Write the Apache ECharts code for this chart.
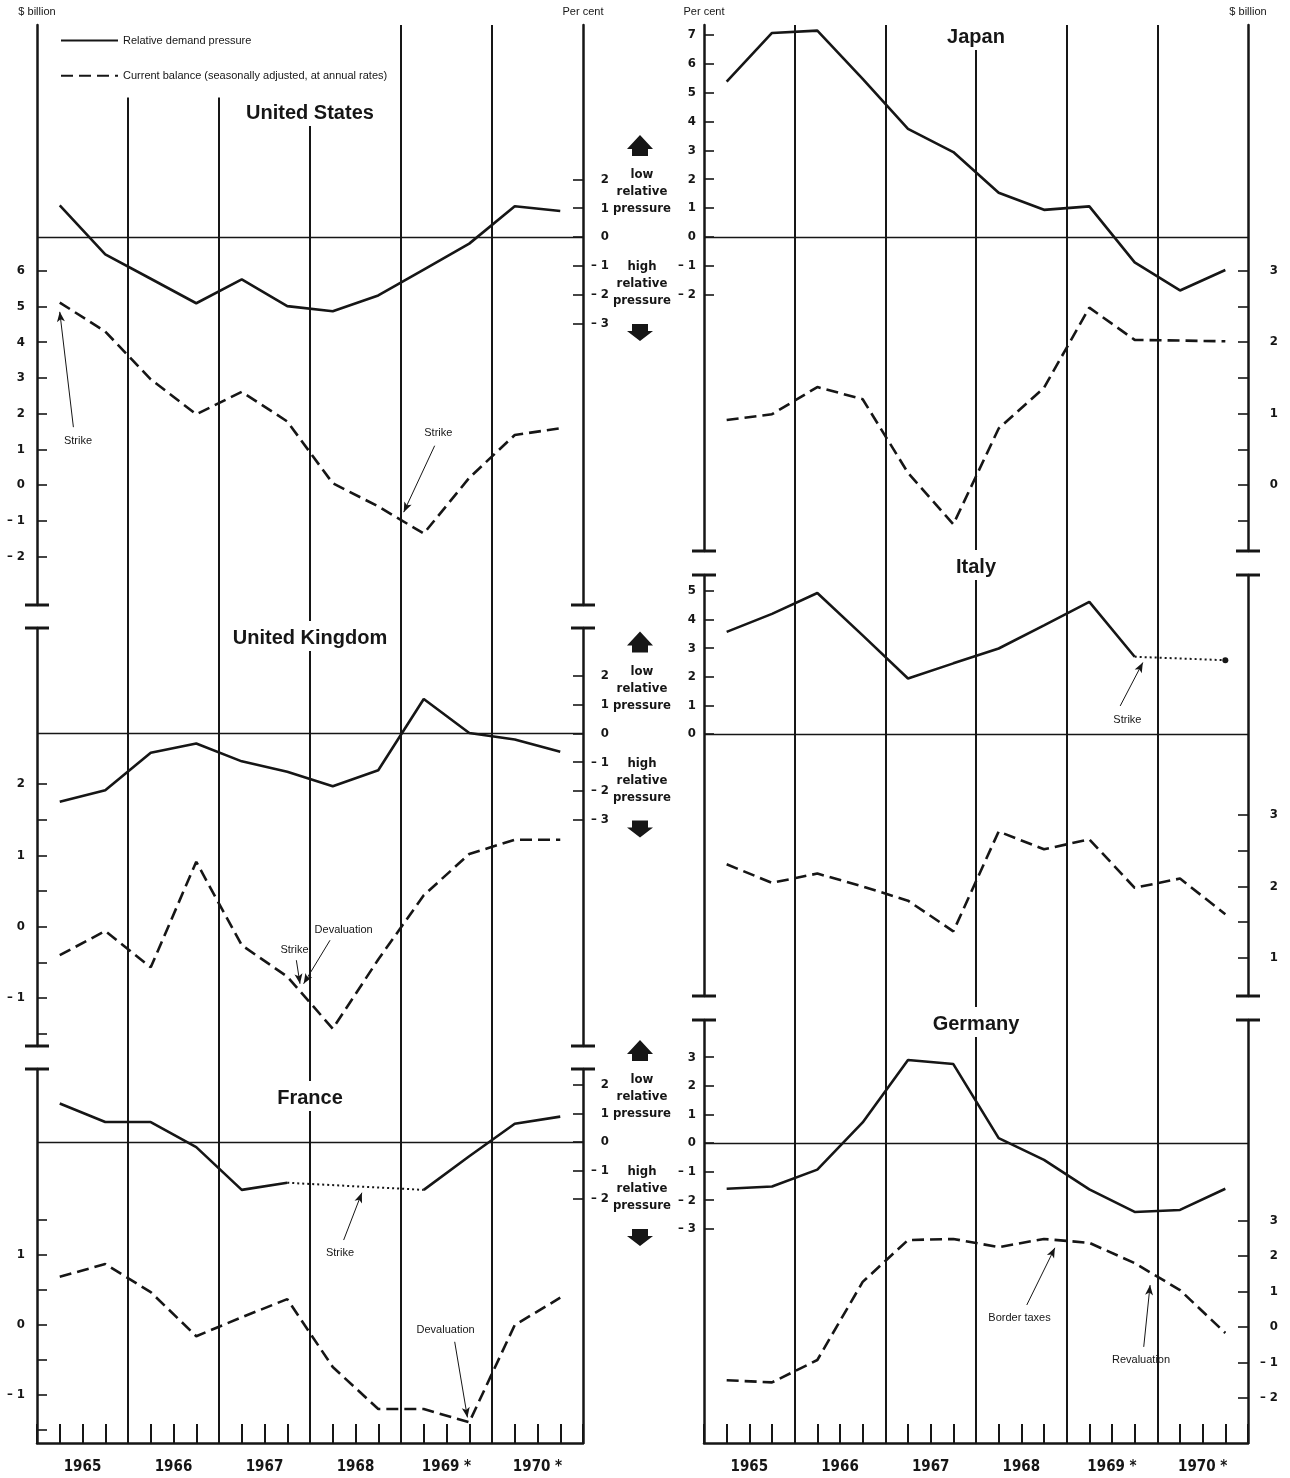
<!DOCTYPE html>
<html>
<head>
<meta charset="utf-8">
<script src="https://cdn.jsdelivr.net/npm/echarts@6/dist/echarts.min.js"></script>
<style>
  html, body { margin: 0; padding: 0; background: #ffffff; }
  #chart { width: 1290px; height: 1478px; }
</style>
</head>
<body>
<div id="chart"></div>
<script>
// Half-year periods, each plotted at the middle of its half
const periods = [1965.25, 1965.75, 1966.25, 1966.75, 1967.25, 1967.75,
                 1968.25, 1968.75, 1969.25, 1969.75, 1970.25, 1970.75];
const yearTicks = [1965.5, 1966.5, 1967.5, 1968.5, 1969.5, 1970.5];
const yearLabels = ['1965', '1966', '1967', '1968', '1969 *', '1970 *'];

// Relative demand pressure (per cent); null = no observation (strike)
const usPressure = [1.10, -0.60, -1.45, -2.30, -1.47, -2.40, -2.58, -2.03, -1.13, -0.23, 1.07, 0.90];
const ukPressure = [-2.38, -1.98, -0.67, -0.35, -0.97, -1.33, -1.84, -1.28, 1.20, 0.02, -0.21, -0.64];
const frPressure = [1.35, 0.70, 0.70, -0.18, -1.68, -1.43, null, null, -1.68, -0.50, 0.64, 0.89];
const jpPressure = [5.38, 7.06, 7.14, 5.47, 3.74, 2.94, 1.53, 0.94, 1.06, -0.88, -1.85, -1.14];
const itPressure = [3.57, 4.20, 4.93, 3.45, 1.94, 2.47, 2.99, 3.80, 4.62, 2.70, null, 2.58];
const dePressure = [-1.60, -1.52, -0.93, 0.72, 2.90, 2.76, 0.17, -0.59, -1.62, -2.41, -2.34, -1.60];

// Current balance, seasonally adjusted, at annual rates ($ billion)
const usBalance = [5.11, 4.30, 2.96, 1.98, 2.61, 1.78, 0.05, -0.60, -1.36, 0.20, 1.40, 1.59];
const ukBalance = [-0.40, -0.06, -0.57, 0.91, -0.26, -0.70, -1.43, -0.46, 0.44, 1.02, 1.22, 1.22];
const frBalance = [0.69, 0.87, 0.47, -0.16, 0.11, 0.37, -0.60, -1.20, -1.20, -1.39, 0.00, 0.39];
const jpBalance = [0.91, 0.99, 1.37, 1.20, 0.17, -0.55, 0.79, 1.36, 2.48, 2.03, 2.02, 2.01];
const itBalance = [2.31, 2.05, 2.18, 2.00, 1.80, 1.37, 2.77, 2.52, 2.66, 1.98, 2.11, 1.61];
const deBalance = [-1.50, -1.56, -0.93, 1.27, 2.45, 2.48, 2.25, 2.48, 2.37, 1.80, 1.04, -0.17];

// Axis tick values
const pctTicksUS = [2, 1, 0, -1, -2, -3];
const pctTicksUK = [2, 1, 0, -1, -2, -3];
const pctTicksFR = [2, 1, 0, -1, -2];
const pctTicksJP = [7, 6, 5, 4, 3, 2, 1, 0, -1, -2];
const pctTicksIT = [5, 4, 3, 2, 1, 0];
const pctTicksDE = [3, 2, 1, 0, -1, -2, -3];
const balTicksUS = [-2, -1, 0, 1, 2, 3, 4, 5, 6];
const balTicksUK = [-1.5, -1, -0.5, 0, 0.5, 1, 1.5, 2];
const balLabelsUK = [-1, 0, 1, 2];
const balTicksFR = [-1.5, -1, -0.5, 0, 0.5, 1, 1.5];
const balLabelsFR = [-1, 0, 1];
const balTicksJP = [-0.5, 0, 0.5, 1, 1.5, 2, 2.5, 3];
const balLabelsJP = [0, 1, 2, 3];
const balTicksIT = [1, 1.5, 2, 2.5, 3];
const balLabelsIT = [1, 2, 3];
const balTicksDE = [-2, -1, 0, 1, 2, 3];

const LEGEND_PRESSURE = 'Relative demand pressure';
const LEGEND_BALANCE = 'Current balance (seasonally adjusted, at annual rates)';

const INK = '#161616';
const NUM_FONT = "'Liberation Sans Narrow', 'DejaVu Sans Condensed', 'Arial Narrow', sans-serif";
const TXT_FONT = "'Liberation Sans', Arial, Helvetica, sans-serif";

// Column frames (pixels)
const columns = [
  { left: 37, right: 583, top: 25, bottom: 1443 },
  { left: 704, right: 1248, top: 25, bottom: 1443 }
];

// Panel layout: vertical extent, and for each scale the pixel of zero and pixels per unit
const panels = [
  { title: 'United States', col: 0, top: 25, bottom: 605, titleY: 113,
    pct: { zero: 237, ppu: 28.8, ticks: pctTicksUS },
    bal: { zero: 485, ppu: 35.7, ticks: balTicksUS },
    pressure: usPressure, balance: usBalance, capTop: false, capBottom: true,
    notes: [
      { axis: 'bal', text: 'Strike', at: [1965.45, 1.23], from: [1965.40, 1.62], to: [1965.25, 4.85] },
      { axis: 'bal', text: 'Strike', at: [1969.41, 1.46], from: [1969.37, 1.10], to: [1969.03, -0.76] }
    ] },
  { title: 'United Kingdom', col: 0, top: 628, bottom: 1046, titleY: 638,
    pct: { zero: 733.5, ppu: 28.7, ticks: pctTicksUK },
    bal: { zero: 926.7, ppu: 71.3, ticks: balTicksUK, labels: balLabelsUK },
    pressure: ukPressure, balance: ukBalance, capTop: true, capBottom: true,
    notes: [
      { axis: 'bal', text: 'Devaluation', at: [1968.37, -0.05], from: [1968.22, -0.19], to: [1967.93, -0.80] },
      { axis: 'bal', text: 'Strike', at: [1967.83, -0.32], from: [1967.85, -0.47], to: [1967.89, -0.80] }
    ] },
  { title: 'France', col: 0, top: 1069, bottom: 1443, titleY: 1098,
    pct: { zero: 1142, ppu: 28.5, ticks: pctTicksFR },
    bal: { zero: 1325, ppu: 70, ticks: balTicksFR, labels: balLabelsFR },
    pressure: frPressure, balance: frBalance, capTop: true, capBottom: false,
    notes: [
      { axis: 'pct', text: 'Strike', at: [1968.33, -3.90], from: [1968.37, -3.44], to: [1968.57, -1.78] },
      { axis: 'bal', text: 'Devaluation', at: [1969.49, -0.07], from: [1969.59, -0.24], to: [1969.73, -1.32] }
    ] },
  { title: 'Japan', col: 1, top: 25, bottom: 551, titleY: 37,
    pct: { zero: 237, ppu: 28.9, ticks: pctTicksJP },
    bal: { zero: 485, ppu: 71.5, ticks: balTicksJP, labels: balLabelsJP },
    pressure: jpPressure, balance: jpBalance, capTop: false, capBottom: true, notes: [] },
  { title: 'Italy', col: 1, top: 575, bottom: 996, titleY: 567,
    pct: { zero: 734, ppu: 28.6, ticks: pctTicksIT },
    bal: { zero: 1029, ppu: 71.3, ticks: balTicksIT, labels: balLabelsIT },
    pressure: itPressure, balance: itBalance, capTop: true, capBottom: true,
    notes: [
      { axis: 'pct', text: 'Strike', at: [1969.67, 0.49], from: [1969.59, 0.98], to: [1969.84, 2.50] }
    ] },
  { title: 'Germany', col: 1, top: 1020, bottom: 1443, titleY: 1024,
    pct: { zero: 1143, ppu: 28.6, ticks: pctTicksDE },
    bal: { zero: 1327, ppu: 35.5, ticks: balTicksDE },
    pressure: dePressure, balance: deBalance, capTop: true, capBottom: false,
    notes: [
      { axis: 'bal', text: 'Border taxes', at: [1968.48, 0.25], from: [1968.56, 0.62], to: [1968.87, 2.23] },
      { axis: 'bal', text: 'Revaluation', at: [1969.82, -0.93], from: [1969.85, -0.56], to: [1969.92, 1.18] }
    ] }
];

function signed(v) {
  return v < 0 ? '\u2013 ' + Math.abs(v) : String(v);
}

function pairs(values) {
  return values.map((v, i) => [periods[i], v == null ? '-' : v]);
}

// End points on either side of a missing stretch, joined by a dotted line
function bridge(values) {
  const last = values.length - 1;
  return values.map((v, i) => {
    const edge = v != null && ((i < last && values[i + 1] == null) || (i > 0 && values[i - 1] == null));
    if (!edge) return [periods[i], '-'];
    if (i === last) {
      return { value: [periods[i], v], symbol: 'circle', symbolSize: 6, itemStyle: { color: INK } };
    }
    return { value: [periods[i], v], symbol: 'none' };
  });
}

const grids = [], xAxes = [], yAxes = [], series = [], titles = [], graphics = [];

// Column frames: quarter ticks, year labels and year dividers
columns.forEach((c, ci) => {
  grids.push({ left: c.left, top: c.top, width: c.right - c.left, height: c.bottom - c.top,
               outerBoundsMode: 'none', containLabel: false });
  xAxes.push({
    type: 'value', gridIndex: ci, min: 1965, max: 1971, interval: 0.25, position: 'bottom',
    axisLine: { show: true, onZero: false, lineStyle: { color: INK, width: 2.5 } },
    axisTick: { show: true, inside: true, length: 19, lineStyle: { color: INK, width: 2 } },
    axisLabel: {
      customValues: yearTicks, margin: 17, color: INK, fontFamily: NUM_FONT,
      fontWeight: 'bold', fontSize: 15,
      formatter: v => yearLabels[yearTicks.indexOf(v)]
    },
    splitLine: { show: false }
  });
  xAxes.push({
    type: 'value', gridIndex: ci, min: 1965, max: 1971, interval: 1, position: 'top',
    axisLine: { show: false }, axisTick: { show: false }, axisLabel: { show: false },
    splitLine: { show: true, showMinLine: false, showMaxLine: false,
                 lineStyle: { color: INK, width: 2 } }
  });
  yAxes.push({ type: 'value', gridIndex: ci, show: false, min: 0, max: 1 });
});

function valueAxis(p, gi, scale, side, labelCfg, name) {
  const ends = [p.capBottom ? 'rect' : 'none', p.capTop ? 'rect' : 'none'];
  const ax = {
    type: 'value', gridIndex: gi, position: side,
    min: -(p.bottom - scale.zero) / scale.ppu,
    max: (scale.zero - p.top) / scale.ppu,
    axisLine: { show: true, onZero: false, symbol: ends, symbolSize: [24, 3],
                lineStyle: { color: INK, width: 2.5 } },
    axisTick: { show: true, inside: true, length: 10, customValues: scale.ticks,
                lineStyle: { color: INK, width: 1.6 } },
    axisLabel: Object.assign({
      customValues: scale.labels || scale.ticks, formatter: signed, color: INK,
      fontFamily: NUM_FONT, fontWeight: 'bold', fontSize: 13
    }, labelCfg),
    splitLine: { show: false }
  };
  if (name) {
    ax.name = name;
    ax.nameLocation = 'end';
    ax.nameGap = 8;
    ax.nameTextStyle = { fontFamily: TXT_FONT, fontSize: 11, color: INK, align: 'center',
                         verticalAlign: 'bottom' };
  }
  return ax;
}

panels.forEach((p, i) => {
  const c = columns[p.col];
  const gi = 2 + i;
  grids.push({ left: c.left, top: p.top, width: c.right - c.left, height: p.bottom - p.top,
               outerBoundsMode: 'none', containLabel: false });
  xAxes.push({ type: 'value', gridIndex: gi, min: 1965, max: 1971, show: false });
  const xi = xAxes.length - 1;
  const first = p.top === c.top;
  let pctAxis, balAxis;
  if (p.col === 0) {
    balAxis = valueAxis(p, gi, p.bal, 'left', { margin: 12 }, first ? '$ billion' : null);
    pctAxis = valueAxis(p, gi, p.pct, 'right', { margin: 26, align: 'right' }, first ? 'Per cent' : null);
  } else {
    pctAxis = valueAxis(p, gi, p.pct, 'left', { margin: 8 }, first ? 'Per cent' : null);
    balAxis = valueAxis(p, gi, p.bal, 'right', { margin: 30, align: 'right' }, first ? '$ billion' : null);
  }
  yAxes.push(pctAxis);
  const pi = yAxes.length - 1;
  yAxes.push(balAxis);
  const bi = yAxes.length - 1;

  const noteLines = ax => p.notes.filter(n => n.axis === ax).map(n => [
    { coord: n.from, symbol: 'none' },
    { coord: n.to, symbol: 'arrow' }
  ]);
  const noteTexts = ax => p.notes.filter(n => n.axis === ax).map(n => ({ coord: n.at, name: n.text }));
  const markText = ax => ({
    silent: true, symbol: 'rect', symbolSize: 1, itemStyle: { color: 'rgba(0,0,0,0)' },
    label: { show: true, position: 'inside', formatter: '{b}', color: INK,
             fontFamily: TXT_FONT, fontSize: 11 },
    data: noteTexts(ax)
  });

  series.push({
    name: LEGEND_PRESSURE, type: 'line', xAxisIndex: xi, yAxisIndex: pi,
    data: pairs(p.pressure), symbol: 'none', connectNulls: false, z: 3,
    lineStyle: { color: INK, width: 2.6, type: 'solid' }, itemStyle: { color: INK },
    markLine: {
      silent: true, symbol: ['none', 'none'], symbolSize: [6, 10], label: { show: false },
      lineStyle: { color: INK, width: 1, type: 'solid' },
      data: [{ yAxis: 0, lineStyle: { width: 1.4 } }].concat(noteLines('pct'))
    },
    markPoint: markText('pct')
  });
  series.push({
    name: LEGEND_BALANCE, type: 'line', xAxisIndex: xi, yAxisIndex: bi,
    data: pairs(p.balance), symbol: 'none', z: 3,
    lineStyle: { color: INK, width: 2.6, type: [12, 6] }, itemStyle: { color: INK },
    markLine: {
      silent: true, symbol: ['none', 'none'], symbolSize: [6, 10], label: { show: false },
      lineStyle: { color: INK, width: 1, type: 'solid' },
      data: noteLines('bal')
    },
    markPoint: markText('bal')
  });
  if (p.pressure.some(v => v == null)) {
    series.push({
      name: 'strike', type: 'line', xAxisIndex: xi, yAxisIndex: pi,
      data: bridge(p.pressure), connectNulls: true, symbol: 'none', showSymbol: true, z: 3,
      lineStyle: { color: INK, width: 2, type: [2, 3] }, itemStyle: { color: INK }
    });
  }

  titles.push({
    text: p.title, left: (c.left + c.right) / 2 - 6, top: p.titleY - 17, textAlign: 'center',
    backgroundColor: '#ffffff', padding: [7, 6, 3, 6],
    textStyle: { fontFamily: TXT_FONT, fontWeight: 'bold', fontSize: 20, color: INK }
  });

  // Direction markers between the columns, beside the per cent scale
  if (p.col === 0) {
    const cx = 640, z0 = p.pct.zero;
    graphics.push({
      type: 'polygon', z: 10,
      shape: { points: [[cx - 13, z0 - 88], [cx, z0 - 102], [cx + 13, z0 - 88], [cx + 8, z0 - 88],
                        [cx + 8, z0 - 81], [cx - 8, z0 - 81], [cx - 8, z0 - 88]] },
      style: { fill: INK }
    });
    graphics.push({
      type: 'polygon', z: 10,
      shape: { points: [[cx - 13, z0 + 94], [cx, z0 + 104], [cx + 13, z0 + 94], [cx + 8, z0 + 94],
                        [cx + 8, z0 + 87], [cx - 8, z0 + 87], [cx - 8, z0 + 94]] },
      style: { fill: INK }
    });
    graphics.push({
      type: 'text', z: 10, x: cx + 2, y: z0 - 45,
      style: { text: 'low\nrelative\npressure', align: 'center', verticalAlign: 'middle',
               font: 'bold 13px ' + NUM_FONT, lineHeight: 17, fill: INK }
    });
    graphics.push({
      type: 'text', z: 10, x: cx + 2, y: z0 + 47,
      style: { text: 'high\nrelative\npressure', align: 'center', verticalAlign: 'middle',
               font: 'bold 13px ' + NUM_FONT, lineHeight: 17, fill: INK }
    });
  }
});

const chart = echarts.init(document.getElementById('chart'), null, { renderer: 'canvas' });
chart.setOption({
  animation: false,
  backgroundColor: '#ffffff',
  title: titles,
  legend: {
    data: [LEGEND_PRESSURE, LEGEND_BALANCE], orient: 'vertical', left: 54, top: 22,
    itemWidth: 57, itemHeight: 14, itemGap: 24, backgroundColor: '#ffffff',
    padding: [13, 10, 16, 6], selectedMode: false,
    itemStyle: { color: 'rgba(0,0,0,0)', borderWidth: 0, opacity: 0 },
    textStyle: { fontFamily: TXT_FONT, fontSize: 11, color: INK }
  },
  grid: grids,
  xAxis: xAxes,
  yAxis: yAxes,
  series: series,
  graphic: graphics
});
</script>
</body>
</html>
